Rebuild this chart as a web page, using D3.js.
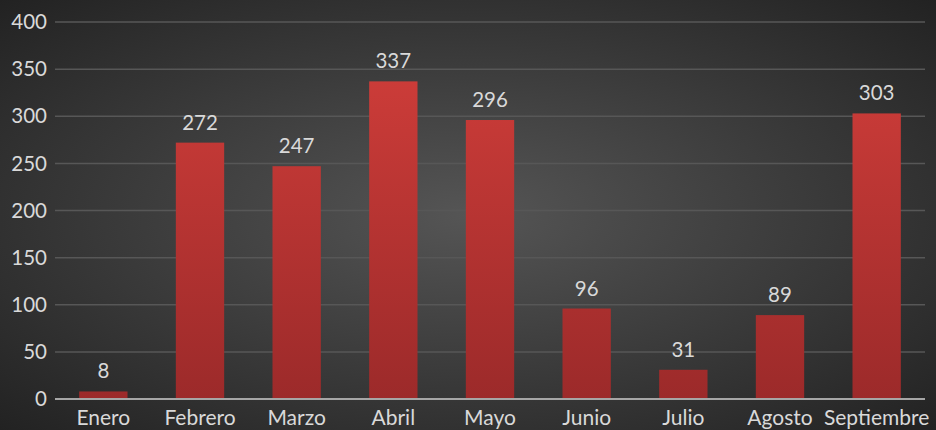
<!DOCTYPE html>
<html>
<head>
<meta charset="utf-8">
<script src="https://cdn.jsdelivr.net/npm/d3@7"></script>
<style>
  html, body { margin: 0; padding: 0; background: #262626; }
  svg { display: block; }
</style>
</head>
<body>
<script>
const months = ["Enero", "Febrero", "Marzo", "Abril", "Mayo", "Junio", "Julio", "Agosto", "Septiembre"];
const values = [8, 272, 247, 337, 296, 96, 31, 89, 303];
const yTicks = [0, 50, 100, 150, 200, 250, 300, 350, 400];

const width = 936;
const height = 430;
const marginTop = 22;
const marginRight = 11;
const marginBottom = 31;
const marginLeft = 55;

const x = d3.scaleBand()
  .domain(months)
  .range([marginLeft, width - marginRight])
  .paddingInner(0.5)
  .paddingOuter(0.25);

const y = d3.scaleLinear()
  .domain([0, 400])
  .range([height - marginBottom, marginTop]);

const svg = d3.create("svg")
  .attr("width", width)
  .attr("height", height)
  .style("font-family", "Lato, 'Open Sans', sans-serif");

const defs = svg.append("defs");
const bg = defs.append("radialGradient")
  .attr("id", "bg")
  .attr("cx", "50%").attr("cy", "50%").attr("r", "75%");
bg.append("stop").attr("offset", "0%").attr("stop-color", "#555555");
bg.append("stop").attr("offset", "100%").attr("stop-color", "#1f1f1f");

const barGrad = defs.append("linearGradient")
  .attr("id", "bar")
  .attr("gradientUnits", "userSpaceOnUse")
  .attr("x1", 0).attr("y1", y(400)).attr("x2", 0).attr("y2", y(0));
barGrad.append("stop").attr("offset", "0%").attr("stop-color", "#d43f3b");
barGrad.append("stop").attr("offset", "100%").attr("stop-color", "#9c2a2a");

svg.append("rect")
  .attr("width", width)
  .attr("height", height)
  .attr("fill", "url(#bg)");

// gridlines
svg.append("g")
  .selectAll("line")
  .data(yTicks.slice(1))
  .join("line")
  .attr("x1", marginLeft)
  .attr("x2", width - marginRight)
  .attr("y1", d => y(d))
  .attr("y2", d => y(d))
  .attr("stroke", "#575757")
  .attr("stroke-width", 1.5);

// y labels
svg.append("g")
  .attr("fill", "#d9d9d9")
  .attr("font-size", 20.5)
  .attr("text-anchor", "end")
  .selectAll("text")
  .data(yTicks)
  .join("text")
  .attr("x", marginLeft - 8)
  .attr("y", d => y(d))
  .attr("dy", "0.35em")
  .text(d => d);

// bars
svg.append("g")
  .selectAll("rect")
  .data(values)
  .join("rect")
  .attr("x", (d, i) => x(months[i]))
  .attr("y", d => y(d))
  .attr("width", x.bandwidth())
  .attr("height", d => y(0) - y(d))
  .attr("fill", "url(#bar)");

// zero line
svg.append("line")
  .attr("x1", marginLeft)
  .attr("x2", width - marginRight)
  .attr("y1", y(0))
  .attr("y2", y(0))
  .attr("stroke", "#a6a6a6")
  .attr("stroke-width", 2);

// value labels
svg.append("g")
  .attr("fill", "#d9d9d9")
  .attr("font-size", 20.5)
  .attr("text-anchor", "middle")
  .selectAll("text")
  .data(values)
  .join("text")
  .attr("x", (d, i) => x(months[i]) + x.bandwidth() / 2)
  .attr("y", d => y(d) - 13)
  .text(d => d);

// category labels
svg.append("g")
  .attr("fill", "#d9d9d9")
  .attr("font-size", 21)
  .attr("text-anchor", "middle")
  .selectAll("text")
  .data(months)
  .join("text")
  .attr("x", d => x(d) + x.bandwidth() / 2)
  .attr("y", height - 5)
  .text(d => d);

document.body.appendChild(svg.node());
</script>
</body>
</html>
